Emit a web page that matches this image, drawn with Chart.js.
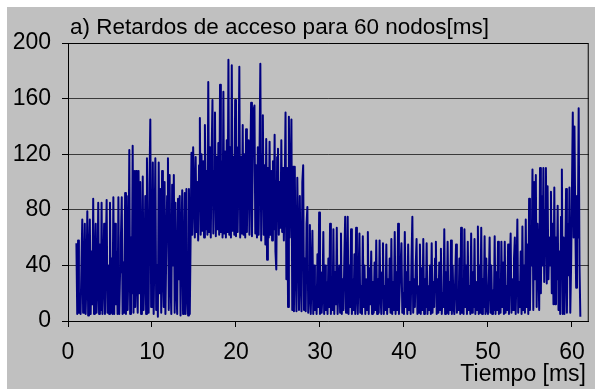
<!DOCTYPE html>
<html>
<head>
<meta charset="utf-8">
<script src="https://cdn.jsdelivr.net/npm/chart.js@4"></script>
<style>
  html, body { margin: 0; padding: 0; background: #fff; }
  #wrap { width: 597px; height: 389px; }
</style>
</head>
<body>
<div id="wrap"><canvas id="c" width="597" height="389"></canvas></div>
<script>
// Texts
const chartTitle = 'a) Retardos de acceso para 60 nodos[ms]';
const xAxisTitle = 'Tiempo [ms]';

// Axis ticks
const xTickValues = [0, 10, 20, 30, 40, 50, 60];
const yTickValues = [0, 40, 80, 120, 160, 200];

// Sampling grid of the delay trace (ms)
const sampleStartMs = 1.0;
const samplePeriodMs = 0.1;

// Access delay per sample [ms], one row per millisecond of simulated time
const delays = [
  56, 5, 58, 6, 20, 5, 40, 73, 6, 35,
  70, 5, 30, 79, 4, 45, 73, 5, 50, 12,
  88, 5, 40, 70, 6, 25, 85, 5, 55, 8,
  85, 5, 30, 70, 5, 48, 87, 6, 40, 5,
  85, 6, 45, 5, 89, 5, 70, 12, 50, 5,
  89, 5, 35, 60, 89, 5, 42, 6, 92, 5,
  90, 8, 40, 123, 5, 60, 20, 126, 6, 108,
  10, 108, 30, 6, 108, 20, 100, 5, 40, 104,
  8, 35, 90, 5, 117, 25, 6, 98, 145, 10,
  30, 114, 5, 60, 117, 8, 40, 3, 114, 20,
  95, 6, 108, 35, 10, 100, 5, 50, 90, 117,
  8, 105, 30, 5, 98, 40, 105, 6, 85, 25,
  5, 88, 30, 90, 4, 60, 94, 5, 35, 92,
  5, 95, 20, 4, 95, 5, 60, 121, 62, 125,
  125, 60, 118, 64, 100, 58, 112, 146, 62, 120,
  65, 115, 60, 141, 66, 108, 62, 172, 64, 125,
  60, 120, 159, 63, 108, 150, 61, 118, 66, 128,
  62, 170, 64, 115, 60, 165, 63, 122, 60, 130,
  64, 188, 62, 125, 60, 184, 65, 118, 62, 159,
  61, 125, 64, 110, 183, 60, 118, 63, 141, 62,
  120, 60, 138, 64, 115, 130, 62, 110, 157, 61,
  118, 152, 155, 63, 112, 60, 125, 62, 118, 185,
  58, 120, 148, 62, 112, 55, 131, 44, 110, 60,
  129, 62, 108, 58, 115, 66, 134, 50, 37, 118,
  124, 62, 100, 67, 130, 64, 110, 58, 95, 150,
  30, 110, 10, 147, 60, 100, 145, 8, 111, 7,
  111, 40, 7, 103, 60, 8, 90, 30, 7, 100,
  112, 8, 45, 7, 70, 82, 6, 20, 69, 5,
  30, 65, 5, 40, 8, 25, 5, 48, 10, 78,
  5, 35, 6, 20, 64, 5, 40, 8, 28, 5,
  45, 10, 70, 5, 30, 8, 66, 5, 35, 12,
  67, 5, 25, 40, 6, 63, 5, 30, 8, 45,
  75, 6, 20, 75, 5, 40, 10, 66, 5, 30,
  8, 48, 5, 67, 20, 5, 35, 63, 6, 25,
  5, 61, 10, 40, 5, 30, 8, 64, 5, 38,
  12, 50, 5, 28, 6, 42, 8, 58, 5, 30,
  6, 58, 20, 5, 35, 56, 5, 25, 8, 55,
  5, 30, 10, 45, 6, 59, 5, 28, 8, 64,
  5, 35, 8, 70, 5, 25, 40, 56, 6, 20,
  5, 64, 10, 35, 5, 55, 8, 28, 5, 45,
  75, 6, 30, 10, 40, 59, 5, 25, 6, 55,
  5, 38, 8, 59, 5, 30, 10, 56, 5, 25,
  8, 40, 5, 56, 6, 28, 10, 45, 57, 5,
  30, 6, 42, 8, 52, 5, 20, 10, 66, 5,
  35, 6, 57, 5, 28, 8, 58, 5, 40, 10,
  5, 30, 55, 6, 22, 8, 45, 5, 67, 6,
  30, 5, 66, 10, 40, 5, 57, 8, 25, 5,
  63, 6, 35, 10, 59, 5, 28, 8, 68, 5,
  40, 6, 67, 5, 30, 10, 61, 5, 45, 8,
  5, 28, 60, 6, 40, 5, 22, 8, 61, 5,
  35, 8, 57, 5, 30, 6, 57, 10, 42, 5,
  57, 6, 25, 8, 55, 5, 40, 63, 6, 30,
  8, 45, 60, 5, 35, 73, 6, 28, 10, 50,
  5, 68, 8, 40, 6, 73, 10, 55, 5, 88,
  8, 60, 40, 109, 8, 100, 30, 105, 10, 70,
  45, 8, 110, 20, 90, 40, 110, 28, 80, 110,
  27, 97, 30, 60, 40, 93, 20, 70, 12, 96,
  12, 60, 30, 83, 8, 50, 5, 75, 109, 5,
  60, 5, 40, 95, 6, 70, 33, 96, 6, 40,
  40, 150, 60, 140, 70, 24, 90, 60, 153, 40,
  3
];

const points = delays.map((v, i) => ({
  x: Math.round((sampleStartMs + i * samplePeriodMs) * 10) / 10,
  y: v
}));

const FONT = 'Arial, "Liberation Sans", sans-serif';

// Grey panel, plot frame and the two free-standing texts
const framePlugin = {
  id: 'frame',
  beforeDraw(chart) {
    const ctx = chart.ctx;
    ctx.save();
    ctx.fillStyle = '#ffffff';
    ctx.fillRect(0, 0, chart.width, chart.height);
    ctx.fillStyle = '#c0c0c0';
    ctx.fillRect(7, 7, chart.width - 9, chart.height - 7);
    ctx.restore();
  },
  beforeDatasetsDraw(chart) {
    const ctx = chart.ctx;
    const { left, right, top, bottom } = chart.chartArea;
    ctx.save();
    ctx.strokeStyle = '#000000';
    ctx.lineWidth = 1;
    ctx.beginPath();
    ctx.moveTo(left, top + 0.5);
    ctx.lineTo(right - 0.5, top + 0.5);
    ctx.lineTo(right - 0.5, bottom);
    ctx.stroke();
    ctx.restore();
  },
  afterDraw(chart) {
    const ctx = chart.ctx;
    ctx.save();
    ctx.fillStyle = '#000000';
    ctx.textBaseline = 'alphabetic';
    ctx.font = '22.5px ' + FONT;
    ctx.textAlign = 'left';
    ctx.fillText(chartTitle, 70, 34);
    ctx.font = '23px ' + FONT;
    ctx.textAlign = 'right';
    ctx.fillText(xAxisTitle, 586, 381);
    ctx.restore();
  }
};

new Chart(document.getElementById('c'), {
  type: 'line',
  data: {
    datasets: [{
      data: points,
      borderColor: '#000080',
      borderWidth: 2,
      borderJoinStyle: 'round',
      pointRadius: 0,
      tension: 0,
      fill: false
    }]
  },
  options: {
    responsive: false,
    animation: false,
    devicePixelRatio: 1,
    layout: { padding: { left: 0, top: 43, right: 8, bottom: 0 } },
    plugins: {
      legend: { display: false },
      tooltip: { enabled: false },
      title: { display: false }
    },
    scales: {
      x: {
        type: 'linear',
        min: 0,
        max: 62,
        afterBuildTicks: s => { s.ticks = xTickValues.map(v => ({ value: v })); },
        afterFit: s => { s.height = 68; },
        grid: { drawOnChartArea: false, drawTicks: true, tickLength: 6, color: '#000000' },
        border: { color: '#000000', width: 1 },
        ticks: {
          font: { family: FONT, size: 23 },
          color: '#000000',
          padding: 12,
          maxRotation: 0,
          autoSkip: false
        }
      },
      y: {
        min: 0,
        max: 200,
        afterBuildTicks: s => { s.ticks = yTickValues.map(v => ({ value: v })); },
        afterFit: s => { s.width = 68; },
        grid: { color: '#3a3a3a', tickColor: '#000000', tickLength: 6, drawTicks: true },
        border: { color: '#000000', width: 1 },
        ticks: {
          font: { family: FONT, size: 23 },
          color: '#000000',
          padding: 11
        }
      }
    }
  },
  plugins: [framePlugin]
});
</script>
</body>
</html>
